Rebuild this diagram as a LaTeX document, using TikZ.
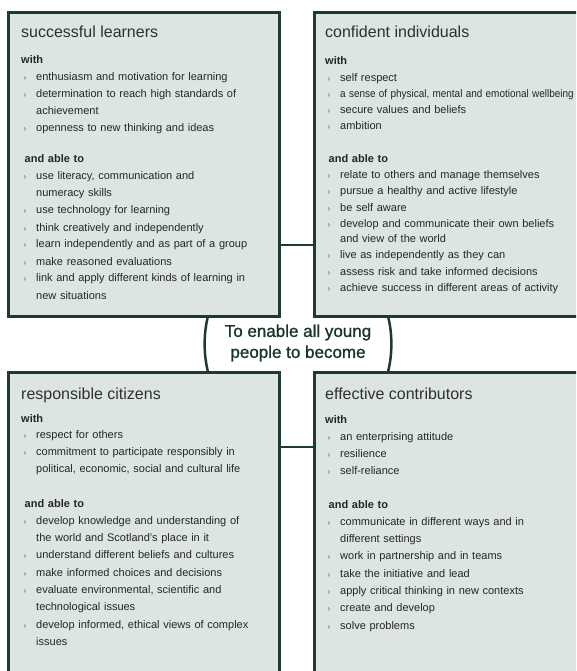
\documentclass[tikz,border=0pt]{standalone}
\usepackage{graphicx}
\usepackage{fontspec}
\setmainfont{Liberation Sans}
\newfontfamily\goalfont[FakeBold=1.2]{Liberation Sans}
\usetikzlibrary{calc}

\definecolor{panelfill}{HTML}{DCE5E0}
\definecolor{panelline}{HTML}{1C3C33}
\definecolor{titletext}{HTML}{303030}
\definecolor{bodytext}{HTML}{262626}
\definecolor{bulletgray}{HTML}{5A5A5A}
\definecolor{goaltext}{HTML}{17352C}

% list helpers: a chevron bullet and the indent of a continued line
\newcommand\bul{\hspace*{2.5pt}\makebox[12.5pt][l]{\textcolor{bulletgray}{\fontsize{8}{8}\selectfont ›}}}
\newcommand\cont{\hspace*{15pt}}
\newcommand\hdr[1]{\textbf{#1}}

\begin{document}
\begin{tikzpicture}[x=1pt,y=-1pt,
  panel/.style={rectangle, draw=panelline, fill=panelfill, line width=3pt,
    inner sep=0pt, outer sep=0pt, anchor=north west},
  paneltitle/.style={anchor=base west, inner sep=0pt, text=titletext,
    font=\fontsize{16}{19}\selectfont},
  itemlist/.style={anchor=base west, inner sep=0pt, text=bodytext,
    text width=330pt, align=left},
  link/.style={draw=panelline, line width=2.5pt},
  goal/.style={align=center, inner sep=0pt, text=goaltext,
    font=\goalfont\fontsize{17}{21}\selectfont}
]
\useasboundingbox (0,0) rectangle (576,671);
\clip (0,0) rectangle (576,671);

% the four panels
\node[panel, minimum width=271pt, minimum height=303pt] (sl) at (8,13) {};
\node[panel, minimum width=290pt, minimum height=303pt] (ci) at (314,13) {};
\node[panel, minimum width=271pt, minimum height=330pt] (rc) at (8,372) {};
\node[panel, minimum width=290pt, minimum height=330pt] (ec) at (314,372) {};

% joins between the panels
\draw[link] ($(sl.north east)+(0,232)$) -- ($(ci.north west)+(0,232)$);
\draw[link] ($(rc.north east)+(0,75)$) -- ($(ec.north west)+(0,75)$);
\draw[link] ($(sl.south west)+(200,0)$) .. controls +(-4.5,18) and +(-4.5,-18) .. ($(rc.north west)+(200,0)$);
\draw[link] ($(ci.south west)+(74,0)$) .. controls +(4.5,18) and +(4.5,-18) .. ($(ec.north west)+(74,0)$);

% central statement
\node[goal] (goal) at (298,343) {To enable all young\\people to become};

% successful learners
\node[paneltitle] (sl-title) at (21,38) {successful learners};
\node[itemlist, font=\fontsize{11}{17}\selectfont] (sl-with) at (21,64) {%
\hdr{with}\\
\bul enthusiasm and motivation for learning\\
\bul determination to reach high standards of\\
\cont achievement\\
\bul openness to new thinking and ideas};
\node[itemlist, font=\fontsize{11}{17}\selectfont] (sl-able) at (21,163) {%
\hspace*{3.5pt}\hdr{and able to}\\
\bul use literacy, communication and\\
\cont numeracy skills\\
\bul use technology for learning\\
\bul think creatively and independently\\
\bul learn independently and as part of a group\\
\bul make reasoned evaluations\\
\bul link and apply different kinds of learning in\\
\cont new situations};

% confident individuals
\node[paneltitle] (ci-title) at (325,38) {confident individuals};
\node[itemlist, font=\fontsize{11}{16.2}\selectfont] (ci-with) at (325,65) {%
\hdr{with}\\
\bul self respect\\
\bul \scalebox{0.905}[1]{a sense of physical, mental and emotional wellbeing}\\
\bul secure values and beliefs\\
\bul ambition};
\node[itemlist, font=\fontsize{11}{16}\selectfont] (ci-able) at (325,163) {%
\hspace*{3.5pt}\hdr{and able to}\\
\bul relate to others and manage themselves\\
\bul pursue a healthy and active lifestyle\\
\bul be self aware\\
\bul develop and communicate their own beliefs\\
\cont and view of the world\\
\bul live as independently as they can\\
\bul assess risk and take informed decisions\\
\bul achieve success in different areas of activity};

% responsible citizens
\node[paneltitle] (rc-title) at (21,399) {responsible citizens};
\node[itemlist, font=\fontsize{11}{16.7}\selectfont] (rc-with) at (21,422) {%
\hdr{with}\\
\bul respect for others\\
\bul commitment to participate responsibly in\\
\cont political, economic, social and cultural life};
\node[itemlist, font=\fontsize{11}{17.3}\selectfont] (rc-able) at (21,507) {%
\hspace*{3.5pt}\hdr{and able to}\\
\bul develop knowledge and understanding of\\
\cont the world and Scotland's place in it\\
\bul understand different beliefs and cultures\\
\bul make informed choices and decisions\\
\bul evaluate environmental, scientific and\\
\cont technological issues\\
\bul develop informed, ethical views of complex\\
\cont issues};

% effective contributors
\node[paneltitle] (ec-title) at (325,399) {effective contributors};
\node[itemlist, font=\fontsize{11}{17}\selectfont] (ec-with) at (325,423) {%
\hdr{with}\\
\bul an enterprising attitude\\
\bul resilience\\
\bul self-reliance};
\node[itemlist, font=\fontsize{11}{17.3}\selectfont] (ec-able) at (325,508) {%
\hspace*{3.5pt}\hdr{and able to}\\
\bul communicate in different ways and in\\
\cont different settings\\
\bul work in partnership and in teams\\
\bul take the initiative and lead\\
\bul apply critical thinking in new contexts\\
\bul create and develop\\
\bul solve problems};
\end{tikzpicture}
\end{document}
